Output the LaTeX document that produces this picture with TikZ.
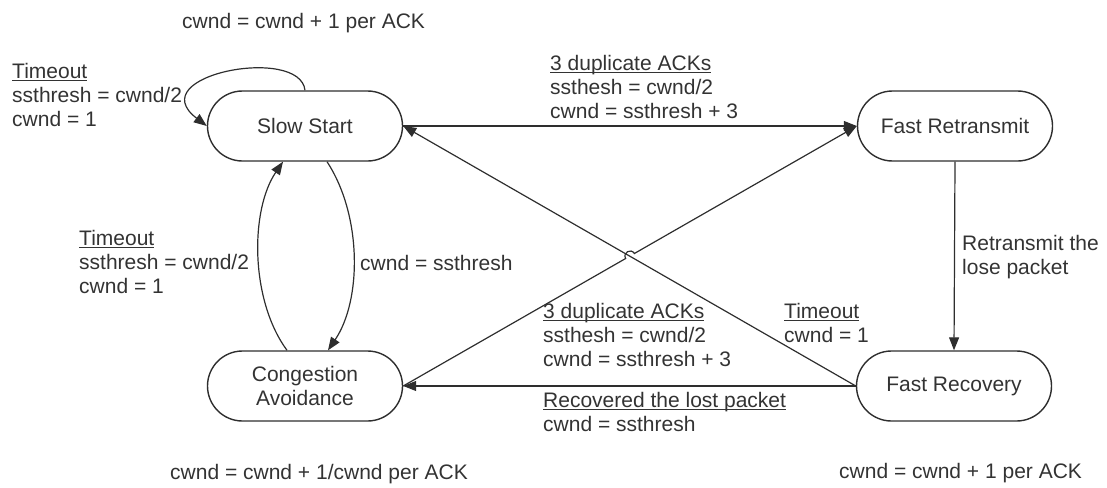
\documentclass[tikz,border=0pt]{standalone}
\usepackage{fontspec}
\setmainfont{Liberation Sans}
\usetikzlibrary{shapes.misc,arrows.meta,calc}
\definecolor{ink}{HTML}{2E2E2E}
\definecolor{txt}{HTML}{333333}
% underline drawn at a fixed depth below the baseline
\newsavebox\ulbox
\newcommand{\uln}[1]{\sbox\ulbox{#1}\rlap{\rule[-2.4pt]{\wd\ulbox}{0.9pt}}\usebox\ulbox}
\begin{document}
\begin{tikzpicture}[x=1pt,y=-1pt,
  state/.style={rounded rectangle, draw=ink, line width=1.4pt,
    minimum width=195pt, minimum height=70pt, inner sep=0pt,
    font=\fontsize{21}{24}\selectfont, text=txt, align=center},
  lbl/.style={anchor=north west, inner sep=0pt, align=left,
    font=\fontsize{21}{24}\selectfont, text=txt},
  note/.style={anchor=base west, inner sep=0pt,
    font=\fontsize{21}{24}\selectfont, text=txt},
  arr/.style={draw=ink, line width=1.2pt, -{Triangle[length=13pt,width=10pt]}},
]
\useasboundingbox (0,0) rectangle (1107,487);

% states
\node[state] (ss)  at (305,126) {Slow Start};
\node[state] (fr)  at (955,126) {Fast Retransmit};
\node[state] (ca)  at (305,386) {Congestion\\Avoidance};
\node[state] (frc) at (954,386) {Fast Recovery};

% transitions
\draw[arr] (ss.north) .. controls (300,45) and (140,75) .. (ss.west);
\draw[arr] (ss.east) -- (fr.west);
\draw[arr] ([xshift=22pt]ss.south) .. controls (362,215) and (362,300) .. ([xshift=23pt]ca.north);
\draw[arr] ([xshift=-18pt]ca.north) .. controls (250,300) and (250,210) .. ([xshift=-22pt]ss.south);
\draw[arr] (fr.south) -- (frc.north);
\draw[arr] (frc.west) -- (ss.east);
\draw[arr] (frc.west) -- (ca.east);
\coordinate (cross) at ($(ca.east)!0.5!(fr.west)$);
\coordinate (h1) at ($(cross)!5pt!(ca.east)$);
\coordinate (h2) at ($(cross)!5pt!(fr.west)$);
\draw[arr] (ca.east) -- (h1) to[bend left=90, looseness=1.7] (h2) -- (fr.west);

% labels
\node[note] (top) at (182,28.5) {cwnd = cwnd + 1 per ACK};
\node[lbl] (sstimeout) at (12,63) {\uln{Timeout}\\ssthresh = cwnd/2\\cwnd = 1};
\node[lbl] (ssdup) at (550,55) {\uln{3 duplicate ACKs}\\ssthesh = cwnd/2\\cwnd = ssthresh + 3};
\node[lbl] (catimeout) at (79,230) {\uln{Timeout}\\ssthresh = cwnd/2\\cwnd = 1};
\node[note] (thresh) at (360,270.5) {cwnd = ssthresh};
\node[lbl] (retx) at (962,235) {Retransmit the\\lose packet};
\node[lbl] (cadup) at (543,303) {\uln{3 duplicate ACKs}\\ssthesh = cwnd/2\\cwnd = ssthresh + 3};
\node[lbl] (frtimeout) at (784,303) {\uln{Timeout}\\cwnd = 1};
\node[lbl] (recovered) at (543,392) {\uln{Recovered the lost packet}\\cwnd = ssthresh};
\node[note] (caincr) at (170,479) {cwnd = cwnd + 1/cwnd per ACK};
\node[note] (frincr) at (839,478) {cwnd = cwnd + 1 per ACK};
\end{tikzpicture}
\end{document}
